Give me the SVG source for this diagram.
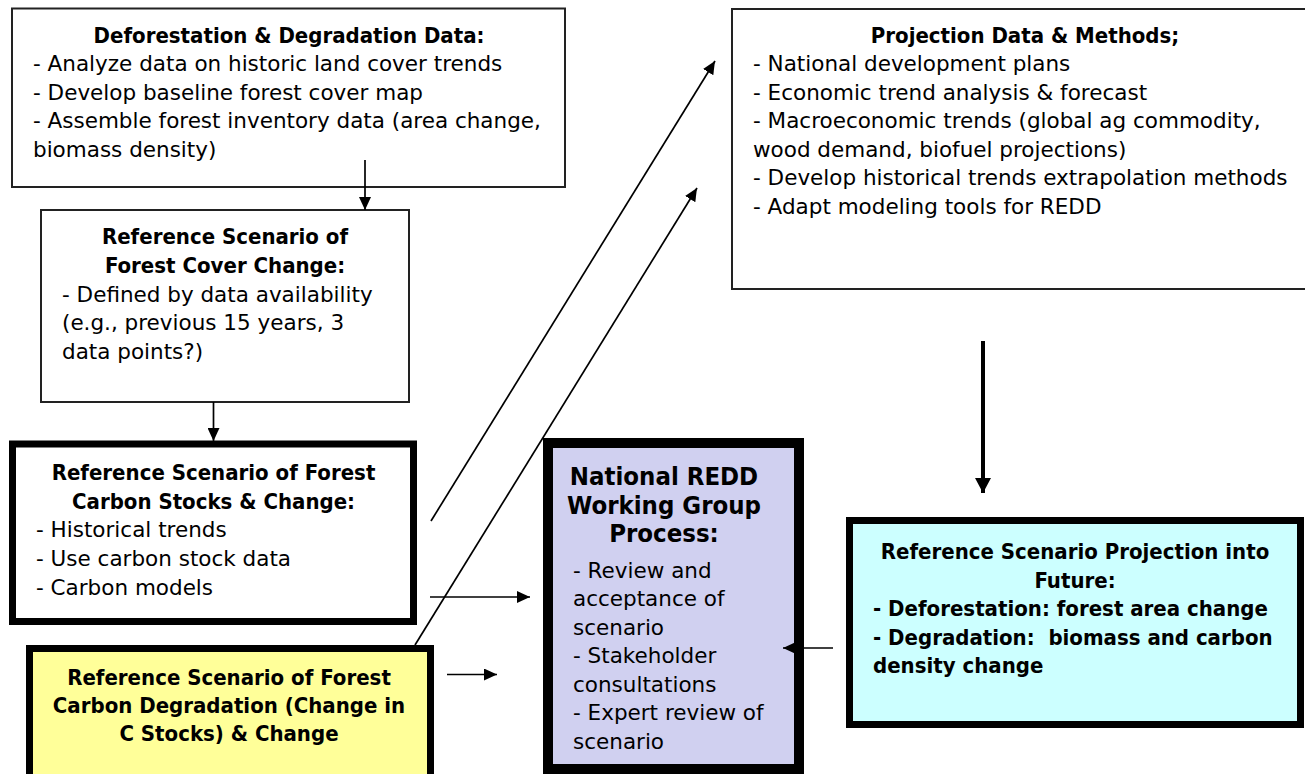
<svg xmlns="http://www.w3.org/2000/svg" width="1305" height="774" viewBox="0 0 1305 774">
<defs>
<marker id="ah" markerUnits="userSpaceOnUse" markerWidth="13" markerHeight="12" refX="13" refY="6" orient="auto">
<path d="M0,0 L13,6 L0,12 z" fill="#000"/>
</marker>
<marker id="ahb" markerUnits="userSpaceOnUse" markerWidth="15" markerHeight="16" refX="15" refY="8" orient="auto">
<path d="M0,0 L15,8 L0,16 z" fill="#000"/>
</marker>
</defs>
<style>
text{font-family:"DejaVu Sans","Liberation Sans",sans-serif;font-size:21.5px;fill:#000}
.b{font-family:"DejaVu Sans Condensed","DejaVu Sans",sans-serif;font-stretch:condensed;font-weight:bold;font-size:22px;text-anchor:middle}
.bl{font-family:"DejaVu Sans Condensed","DejaVu Sans",sans-serif;font-stretch:condensed;font-weight:bold;font-size:22px}
.big{font-size:25.5px}
.thin{fill:#fff;stroke:#222;stroke-width:2}
.thick{stroke:#000;stroke-width:7}
.c{fill:none;stroke:#000;stroke-width:1.7;marker-end:url(#ah)}
.cb{fill:none;stroke:#000;stroke-width:4;marker-end:url(#ahb)}
</style>
<rect width="1305" height="774" fill="#fff"/>
<g id="deforestation-data">
<rect class="thin" x="12" y="8.5" width="553" height="178.5"/>
<text class="b" x="289" y="42.5">Deforestation &amp; Degradation Data:</text>
<text x="33" y="71">- Analyze data on historic land cover trends</text>
<text x="33" y="99.5">- Develop baseline forest cover map</text>
<text x="33" y="128">- Assemble forest inventory data (area change,</text>
<text x="33" y="156.5">biomass density)</text>
</g>
<g id="forest-cover-change">
<rect class="thin" x="41" y="210" width="368" height="192"/>
<text class="b" x="225" y="244">Reference Scenario of</text>
<text class="b" x="225" y="273">Forest Cover Change:</text>
<text x="62" y="301.5">- Defined by data availability</text>
<text x="62" y="330">(e.g., previous 15 years, 3</text>
<text x="62" y="358.5">data points?)</text>
</g>
<g id="carbon-stocks">
<rect class="thick" fill="#fff" x="12.5" y="444" width="401" height="177.5"/>
<text class="b" x="213.5" y="480">Reference Scenario of Forest</text>
<text class="b" x="213.5" y="509">Carbon Stocks &amp; Change:</text>
<text x="36" y="537">- Historical trends</text>
<text x="36" y="566">- Use carbon stock data</text>
<text x="36" y="595">- Carbon models</text>
</g>
<g id="carbon-degradation">
<rect class="thick" fill="#FFFF99" x="29.5" y="648.5" width="401" height="200"/>
<text class="b" x="229" y="685">Reference Scenario of Forest</text>
<text class="b" x="229" y="713">Carbon Degradation (Change in</text>
<text class="b" x="229" y="741">C Stocks) &amp; Change</text>
</g>
<g id="working-group">
<rect fill="#D0D0F0" stroke="#000" stroke-width="10" x="548" y="443" width="251" height="326"/>
<text class="b big" x="664" y="485">National REDD</text>
<text class="b big" x="664" y="513.5">Working Group</text>
<text class="b big" x="664" y="542">Process:</text>
<text x="573" y="577.5">- Review and</text>
<text x="573" y="606">acceptance of</text>
<text x="573" y="634.5">scenario</text>
<text x="573" y="663">- Stakeholder</text>
<text x="573" y="691.5">consultations</text>
<text x="573" y="720">- Expert review of</text>
<text x="573" y="748.5">scenario</text>
</g>
<g id="projection-data">
<rect class="thin" x="732" y="9" width="600" height="280"/>
<text class="b" x="1025" y="42.5">Projection Data &amp; Methods;</text>
<text x="753" y="71">- National development plans</text>
<text x="753" y="99.5">- Economic trend analysis &amp; forecast</text>
<text x="753" y="128">- Macroeconomic trends (global ag commodity,</text>
<text x="753" y="156.5">wood demand, biofuel projections)</text>
<text x="753" y="185">- Develop historical trends extrapolation methods</text>
<text x="753" y="213.5">- Adapt modeling tools for REDD</text>
</g>
<g id="projection-future">
<rect class="thick" fill="#CCFFFF" x="849.5" y="520.5" width="451" height="204"/>
<text class="b" x="1075" y="559">Reference Scenario Projection into</text>
<text class="b" x="1075" y="587.5">Future:</text>
<text class="bl" x="873" y="616">- Deforestation: forest area change</text>
<text class="bl" x="873" y="644.5" xml:space="preserve">- Degradation:  biomass and carbon</text>
<text class="bl" x="873" y="673">density change</text>
</g>
<g id="connectors">
<line class="c" x1="365" y1="160" x2="365" y2="210"/>
<line class="c" x1="213.5" y1="402" x2="213.5" y2="441"/>
<line class="c" x1="431" y1="521" x2="715" y2="61"/>
<line class="c" x1="415" y1="645" x2="697" y2="188"/>
<line class="c" x1="430" y1="597" x2="530" y2="597"/>
<line class="c" x1="447" y1="674.5" x2="497" y2="674.5"/>
<line class="c" x1="833" y1="648" x2="783" y2="648"/>
<line class="cb" x1="983" y1="341" x2="983" y2="493"/>
</g>
</svg>
